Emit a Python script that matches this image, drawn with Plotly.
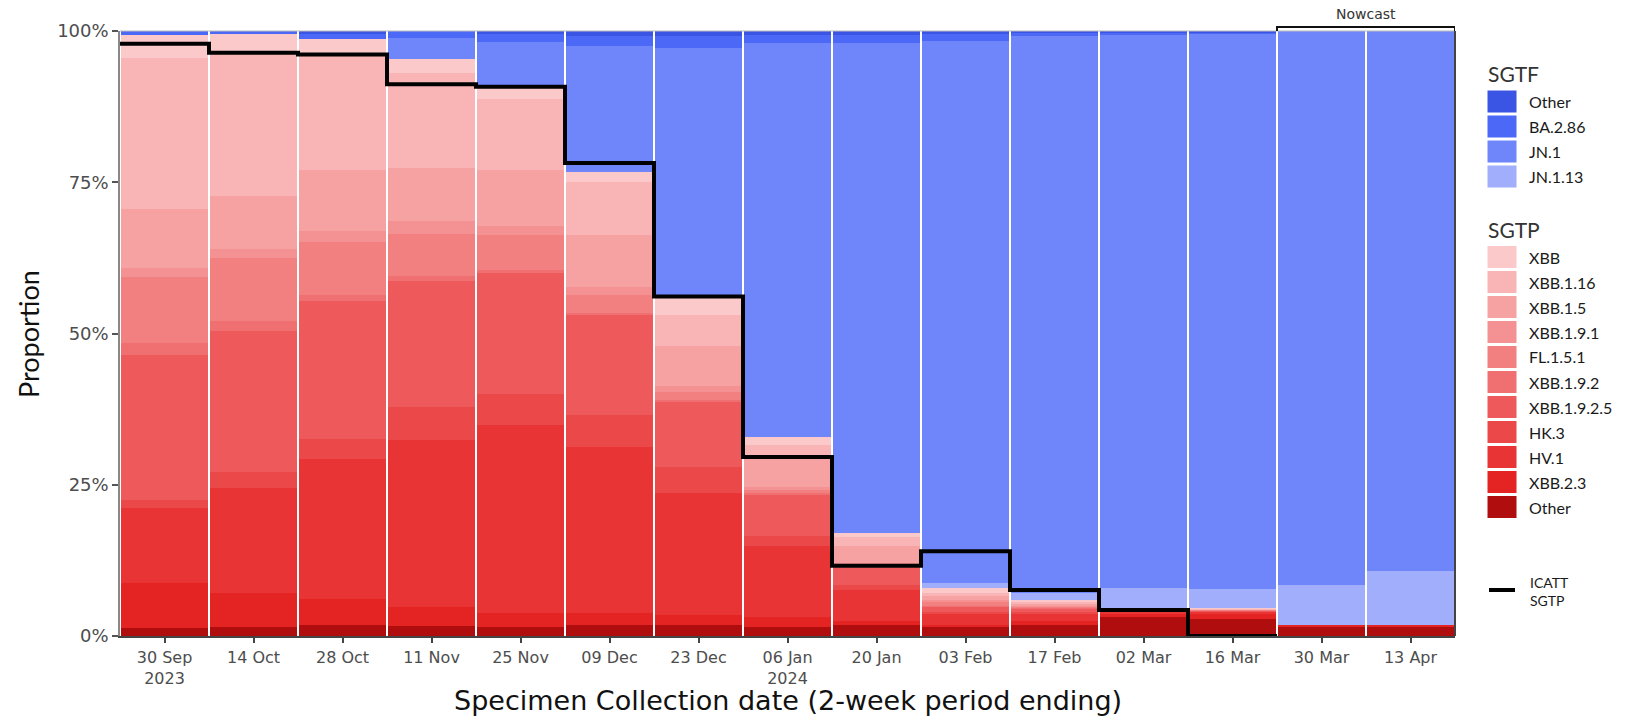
import plotly.graph_objects as go

# ---------------- data (percent of specimens per 2-week period) ----------------
periods = ["30 Sep<br>2023", "14 Oct", "28 Oct", "11 Nov", "25 Nov", "09 Dec", "23 Dec",
           "06 Jan<br>2024", "20 Jan", "03 Feb", "17 Feb", "02 Mar", "16 Mar", "30 Mar", "13 Apr"]

# SGTP lineages
sgtp_other  = [1.4, 1.5, 1.8, 1.6, 1.5, 1.8, 1.8, 1.5, 1.8, 1.5, 1.8, 3.2, 2.8, 1.6, 1.5]
xbb_2_3     = [7.3, 5.6, 4.3, 3.2, 2.3, 2.0, 1.7, 1.6, 0.6, 0.3, 0.6, 0.5, 0.9, 0.3, 0.3]
hv_1        = [12.5, 17.4, 23.2, 27.6, 31.0, 27.4, 20.2, 11.8, 5.2, 1.9, 1.3, 0.5, 0.3, 0, 0]
hk_3        = [1.3, 2.6, 3.2, 5.4, 5.2, 5.3, 4.3, 1.6, 0.8, 0.3, 0.3, 0.1, 0.1, 0, 0]
xbb_1_9_2_5 = [23.9, 23.3, 22.9, 20.9, 20.0, 16.6, 10.7, 6.9, 3.0, 0.8, 0.6, 0.1, 0.1, 0, 0]
xbb_1_9_2   = [2.0, 1.7, 1.0, 0.8, 0.5, 0.3, 0.3, 0.2, 0.1, 0.2, 0.1, 0, 0, 0, 0]
fl_1_5_1    = [10.9, 10.3, 8.8, 7.0, 5.7, 3.0, 1.4, 0.6, 0.3, 0.6, 0.2, 0, 0.1, 0, 0]
xbb_1_9_1   = [1.5, 1.6, 1.7, 2.1, 1.6, 1.3, 1.0, 0.5, 0.2, 0.4, 0.1, 0, 0, 0, 0]
xbb_1_5     = [9.8, 8.7, 10.1, 8.8, 9.3, 8.5, 6.5, 4.6, 2.8, 0.6, 0.3, 0.1, 0.1, 0, 0]
xbb_1_16    = [25.0, 23.8, 19.0, 15.6, 11.6, 8.8, 5.2, 2.3, 1.6, 0.5, 0.3, 0.1, 0.1, 0, 0]
xbb         = [3.8, 3.0, 2.7, 2.4, 2.3, 1.7, 3.0, 1.3, 0.6, 0.8, 0.4, 0.1, 0.1, 0, 0]

# SGTF lineages
jn_1_13     = [0, 0, 0, 0, 0, 0, 0, 0, 0, 0.8, 1.1, 3.2, 3.2, 6.6, 8.9]
jn_1        = [0, 0, 0, 3.5, 7.2, 20.9, 41.1, 65.1, 81.0, 89.6, 92.1, 91.6, 91.8, 91.5, 89.3]
ba_2_86     = [0.6, 0.5, 0.8, 1.1, 1.3, 1.6, 2.0, 1.3, 1.3, 1.2, 0.5, 0.3, 0.2, 0, 0]
sgtf_other  = [0, 0, 0.5, 0, 0.5, 0.8, 0.8, 0.7, 0.7, 0.5, 0.3, 0.2, 0.2, 0, 0]

# ICATT SGTP proportion (first 13 periods)
icatt_sgtp  = [97.9, 96.4, 96.1, 91.2, 90.8, 78.2, 56.1, 29.6, 11.6, 14.0, 7.6, 4.3, 0.0]

y_ticks      = [0, 25, 50, 75, 100]
y_tick_texts = ["0%", "25%", "50%", "75%", "100%"]

sgtf_names  = ["Other", "BA.2.86", "JN.1", "JN.1.13"]
sgtf_colors = ["#3A55E3", "#4B69F6", "#6F86FB", "#A0AEFC"]
sgtf_values = [sgtf_other, ba_2_86, jn_1, jn_1_13]

sgtp_names  = ["XBB", "XBB.1.16", "XBB.1.5", "XBB.1.9.1", "FL.1.5.1", "XBB.1.9.2",
               "XBB.1.9.2.5", "HK.3", "HV.1", "XBB.2.3", "Other"]
sgtp_colors = ["#FBC9CA", "#F9B4B5", "#F6A2A3", "#F49293", "#F38081", "#F07072",
               "#EE5A5C", "#EB4849", "#E83434", "#E42323", "#B00D0E"]
sgtp_values = [xbb, xbb_1_16, xbb_1_5, xbb_1_9_1, fl_1_5_1, xbb_1_9_2,
               xbb_1_9_2_5, hk_3, hv_1, xbb_2_3, sgtp_other]

# ---------------- figure ----------------
W, H = 1643, 717
ML, MR, MT, MB = 120, 188, 31, 81
PW, PH = W - ML - MR, H - MT - MB

def px_x(px):
    return (px - ML) / PW

def px_y(py):
    return (H - MB - py) / PH

xs = list(range(len(periods)))
fig = go.Figure()

# stacked bars: SGTP from bottom (Other) up, then SGTF (JN.1.13 ... Other) on top
for name, color, vals in reversed(list(zip(sgtp_names, sgtp_colors, sgtp_values))):
    fig.add_trace(go.Bar(x=xs, y=vals, name="SGTP " + name, marker=dict(color=color, line=dict(width=0)),
                         showlegend=False))
for name, color, vals in reversed(list(zip(sgtf_names, sgtf_colors, sgtf_values))):
    fig.add_trace(go.Bar(x=xs, y=vals, name="SGTF " + name, marker=dict(color=color, line=dict(width=0)),
                         showlegend=False))

# ICATT step line spanning each period's full width
edges = [i - 0.5 for i in range(len(icatt_sgtp) + 1)]
fig.add_trace(go.Scatter(x=edges, y=icatt_sgtp + [icatt_sgtp[-1]], mode="lines",
                         line=dict(color="black", width=4, shape="hv"),
                         cliponaxis=False, showlegend=False, name="ICATT SGTP"))

tick_font_x = dict(family="DejaVu Sans", size=16, color="#4D4D4D")
tick_font_y = dict(family="DejaVu Sans", size=18, color="#4D4D4D")
fig.update_layout(
    width=W, height=H, barmode="stack", bargap=0.022,
    margin=dict(l=ML, r=MR, t=MT, b=MB, autoexpand=False),
    paper_bgcolor="white", plot_bgcolor="white",
    xaxis=dict(range=[-0.5, len(periods) - 0.5], tickmode="array", tickvals=xs, ticktext=periods,
               showgrid=False, zeroline=False, showline=True, linecolor="#444", linewidth=2,
               ticks="outside", ticklen=5, tickcolor="#444", tickwidth=1.5,
               tickfont=tick_font_x, ticklabelstandoff=1),
    yaxis=dict(range=[0, 100], tickmode="array", tickvals=y_ticks, ticktext=y_tick_texts,
               showgrid=False, zeroline=False, showline=True, linecolor="#888", linewidth=1.5,
               ticks="outside", ticklen=6, tickcolor="#555", tickwidth=1.5, tickfont=tick_font_y),
    font=dict(family="DejaVu Sans"),
)

shapes = []
annotations = []
# panel border (top light, right dark)
shapes.append(dict(type="line", xref="paper", yref="paper", x0=0, x1=1, y0=1, y1=1,
                   line=dict(color="#BBBBBB", width=1)))
shapes.append(dict(type="line", xref="paper", yref="paper", x0=1, x1=1, y0=0, y1=1,
                   line=dict(color="#444", width=2)))

# axis titles
annotations.append(dict(text="Specimen Collection date (2-week period ending)", xref="paper", yref="paper",
                        x=0.5, y=px_y(700), xanchor="center", yanchor="middle", showarrow=False,
                        font=dict(family="DejaVu Sans", size=27, color="#111")))
annotations.append(dict(text="Proportion", xref="paper", yref="paper", x=px_x(28), y=px_y(334),
                        xanchor="center", yanchor="middle", textangle=-90, showarrow=False,
                        font=dict(family="Lato", size=27, color="#111")))

# Nowcast bracket over the last two periods
n = len(periods)
yb0, yb1 = px_y(31), px_y(27)
shapes.append(dict(type="path", xref="x", yref="paper",
                   path=f"M {n - 2.5},{yb0} L {n - 2.5},{yb1} L {n - 0.5},{yb1} L {n - 0.5},{yb0}",
                   line=dict(color="#111", width=2)))
annotations.append(dict(text="Nowcast", xref="x", yref="paper", x=n - 1.5, y=px_y(14),
                        xanchor="center", yanchor="middle", showarrow=False,
                        font=dict(family="DejaVu Sans", size=14, color="#333")))

# manual legend
def legend_block(title, title_y, names, colors, first_y):
    annotations.append(dict(text=title, xref="paper", yref="paper", x=px_x(1486), y=px_y(title_y),
                            xanchor="left", yanchor="middle", showarrow=False,
                            font=dict(family="Lato", size=21, color="#333")))
    for k, (nm, col) in enumerate(zip(names, colors)):
        cy = first_y + 25 * k
        shapes.append(dict(type="rect", xref="paper", yref="paper",
                           x0=px_x(1487), x1=px_x(1517), y0=px_y(cy + 11.5), y1=px_y(cy - 11.5),
                           fillcolor=col, line=dict(color="white", width=1)))
        annotations.append(dict(text=nm, xref="paper", yref="paper", x=px_x(1527), y=px_y(cy),
                                xanchor="left", yanchor="middle", showarrow=False,
                                font=dict(family="Lato", size=16, color="#1A1A1A")))

legend_block("SGTF", 74, sgtf_names, sgtf_colors, 101.5)
legend_block("SGTP", 229, sgtp_names, sgtp_colors, 257)

shapes.append(dict(type="line", xref="paper", yref="paper", x0=px_x(1489), x1=px_x(1515),
                   y0=px_y(590), y1=px_y(590), line=dict(color="black", width=4)))
annotations.append(dict(text="ICATT<br>SGTP", xref="paper", yref="paper", x=px_x(1528), y=px_y(591),
                        xanchor="left", yanchor="middle", align="left", showarrow=False,
                        font=dict(family="Lato", size=14, color="#1A1A1A")))

fig.update_layout(shapes=shapes, annotations=annotations)
fig.write_html("out.html", config={"displayModeBar": False},
               post_script="document.body.style.margin='0';document.body.style.overflow='hidden';")
